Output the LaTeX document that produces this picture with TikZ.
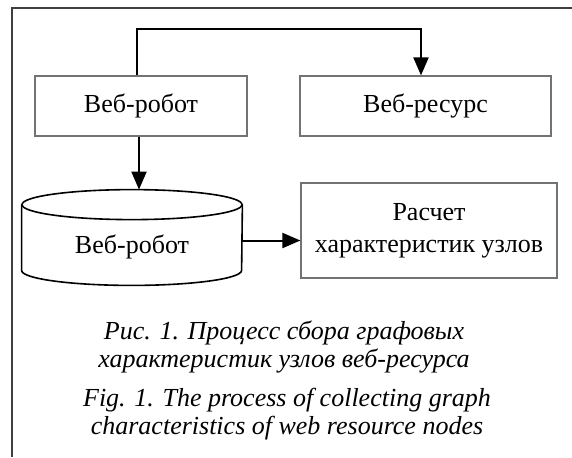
\documentclass[tikz,border=0pt]{standalone}
\usepackage{fontspec}
\setmainfont{Liberation Serif}
\usetikzlibrary{positioning,arrows.meta}
\colorlet{box edge}{black!55}
\colorlet{frame edge}{black!75}
\tikzset{block/.style={draw=box edge, line width=0.6pt, inner sep=0pt,
		font=\fontsize{13}{16}\selectfont, align=center},
	flow/.style={line width=1pt, -{Triangle[length=9pt,width=7.5pt]}},
	cyl/.style={line width=0.8pt},
	caption/.style={font=\fontsize{13}{13.8}\selectfont\itshape, align=center}}

\begin{document}
\begin{tikzpicture}[x=0.5pt,y=-0.5pt]
		\useasboundingbox (0,0) rectangle (572,457);
		\draw[frame edge, line width=0.75pt] (12,457) -- (12,8) -- (572,8);
		
		\node[block, minimum width=106pt, minimum height=30pt] (robot) at (141,106) {Веб-робот};
		\node[block, minimum width=125.5pt, minimum height=30pt] (resource) at (425.5,106) {Веб-ресурс};
		\node[block, minimum width=128pt, minimum height=47.5pt] (calc) at (429,230.5) {Расчет\\характеристик узлов};
		
		% storage drum
		\node[minimum width=110pt, minimum height=47.5pt, inner sep=0pt] (store) at (132,237.5) {};
		\draw[cyl] ([yshift=-7.5pt]store.north) ellipse [x radius=55pt, y radius=7.5pt];
		\draw[cyl] ([yshift=-7.5pt]store.north west) -- ([yshift=7.5pt]store.south west)
			arc[start angle=180, end angle=360, x radius=55pt, y radius=7.5pt]
			-- ([yshift=-7.5pt]store.north east);
		\node[font=\fontsize{13}{16}\selectfont] (storetext) at ([yshift=-4.5pt]store.center) {Веб-робот};
		
		\draw[flow] ([xshift=-2pt]robot.north) -- ++(0,-46) -| ([xshift=-2.25pt]resource.north);
		\draw[flow] ([xshift=-1pt]robot.south) -- ([xshift=-1pt]robot.south |- store.north);
		\draw[flow] ([yshift=-1.5pt]store.east) -- ([yshift=-1.5pt]store.east -| calc.west);
		
		\node[caption] (capru) at (284,347) {Рис. 1. Процесс сбора графовых\\характеристик узлов веб-ресурса};
		\node[caption] (capen) at (287,414) {Fig. 1. The process of collecting graph\\characteristics of web resource nodes};
		\end{tikzpicture}
\end{document}
